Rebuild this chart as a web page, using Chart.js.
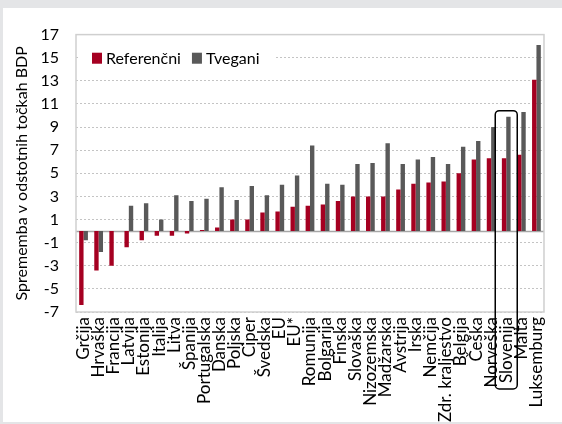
<!DOCTYPE html>
<html>
<head>
<meta charset="utf-8">
<script src="https://cdn.jsdelivr.net/npm/chart.js@4"></script>
<style>
  html, body { margin: 0; padding: 0; background: #e4e5e7; }
  #wrap { position: absolute; left: 3px; top: 8px; width: 559px; height: 414px; background: #fff; }
</style>
</head>
<body>
<div id="wrap"><canvas id="chartBdp" width="559" height="414"></canvas></div>
<script>
const countries = ['Grčija', 'Hrvaška', 'Francija', 'Latvija', 'Estonija', 'Italija', 'Litva', 'Španija',
    'Portugalska', 'Danska', 'Poljska', 'Ciper', 'Švedska', 'EU', 'EU*', 'Romunija', 'Bolgarija', 'Finska',
    'Slovaška', 'Nizozemska', 'Madžarska', 'Avstrija', 'Irska', 'Nemčija', 'Zdr. kraljestvo', 'Belgija',
    'Češka', 'Norveška', 'Slovenija', 'Malta', 'Luksemburg'];

const referencni = [-6.4, -3.4, -3.0, -1.4, -0.8, -0.4, -0.4, -0.2, 0.1, 0.3, 1.0, 1.0, 1.6, 1.7, 2.1,
    2.2, 2.3, 2.6, 3.0, 3.0, 3.0, 3.6, 4.1, 4.2, 4.3, 5.0, 6.2, 6.3, 6.3, 6.6, 13.1];

const tvegani = [-0.8, -1.8, 0, 2.2, 2.4, 1.0, 3.1, 2.6, 2.8, 3.8, 2.7, 3.9, 3.1, 4.0, 4.8,
    7.4, 4.1, 4.0, 5.8, 5.9, 7.6, 5.8, 6.2, 6.4, 5.8, 7.3, 7.8, 9.0, 9.9, 10.3, 16.1];

const yTicks = [-7, -5, -3, -1, 1, 3, 5, 7, 9, 11, 13, 15, 17];

const highlighted = 'Slovenija';

const FONT = 'Lato, sans-serif';

// frame, zero line, legend and the box around Slovenija
const extras = {
    id: 'extras',
    beforeDatasetsDraw(chart) {
        const { ctx, chartArea: a, scales: { y } } = chart;
        ctx.save();
        ctx.strokeStyle = '#a6a6a6';
        ctx.lineWidth = 1.5;
        const y0 = Math.round(y.getPixelForValue(0)) + 0.5;
        ctx.beginPath();
        ctx.moveTo(a.left, y0);
        ctx.lineTo(a.right, y0);
        ctx.stroke();
        ctx.restore();
    },
    afterDatasetsDraw(chart) {
        const { ctx, chartArea: a, scales: { x, y } } = chart;
        ctx.save();
        ctx.strokeStyle = '#cfcfcf';
        ctx.lineWidth = 1.5;
        ctx.strokeRect(a.left, a.top, a.right - a.left, a.bottom - a.top);

        // legend
        ctx.font = '16px ' + FONT;
        ctx.textBaseline = 'middle';
        const ly = y.getPixelForValue(15);
        let lx = a.left + 16;
        ctx.fillStyle = '#fff';
        ctx.fillRect(a.left + 4, ly - 12, 196, 24);
        chart.data.datasets.forEach(ds => {
            ctx.fillStyle = ds.backgroundColor;
            ctx.fillRect(lx, ly - 5, 10, 11);
            ctx.fillStyle = '#000';
            ctx.fillText(ds.label, lx + 14, ly + 1);
            lx += 14 + ctx.measureText(ds.label).width + 11;
        });

        // highlight box
        const i = countries.indexOf(highlighted);
        const cx = x.getPixelForValue(i);
        const top = y.getPixelForValue(Math.max(referencni[i], tvegani[i])) - 6;
        const bottom = a.bottom + 77;
        ctx.strokeStyle = '#000';
        ctx.lineWidth = 1.5;
        ctx.beginPath();
        ctx.roundRect(cx - 11, top, 22, bottom - top, 4);
        ctx.stroke();
        ctx.restore();
    }
};

const data = {
    labels: countries,
    datasets: [{
        label: 'Referenčni',
        backgroundColor: '#a50021',
        data: referencni,
    }, {
        label: 'Tvegani',
        backgroundColor: '#595959',
        data: tvegani,
    }]
};

const config = {
    type: 'bar',
    data: data,
    options: {
        responsive: false,
        animation: false,
        layout: { padding: { top: 23, right: 10, left: 0, bottom: 0 } },
        datasets: { bar: { categoryPercentage: 0.58, barPercentage: 1 } },
        plugins: { legend: { display: false }, tooltip: { enabled: false } },
        scales: {
            x: {
                grid: { display: false, drawTicks: false },
                border: { display: false },
                ticks: {
                    autoSkip: false, maxRotation: 90, minRotation: 90, padding: 5,
                    color: '#000', font: { family: FONT, size: 17 }
                },
                afterFit(scale) { scale.height = 110; }
            },
            y: {
                min: -7,
                max: 17,
                afterBuildTicks(scale) { scale.ticks = yTicks.map(v => ({ value: v })); },
                grid: { color: '#c4c4c4', lineWidth: 1, drawTicks: false },
                border: { display: false, dash: [2, 2] },
                ticks: { autoSkip: false, padding: 17, color: '#000', font: { family: FONT, size: 16 } },
                title: {
                    display: true, text: 'Sprememba v odstotnih točkah BDP',
                    color: '#000', font: { family: FONT, size: 16 }, padding: { top: 9, bottom: 4 }
                },
                afterFit(scale) { scale.width = 73; }
            }
        }
    },
    plugins: [extras]
};

new Chart(document.getElementById('chartBdp'), config);
</script>
</body>
</html>
